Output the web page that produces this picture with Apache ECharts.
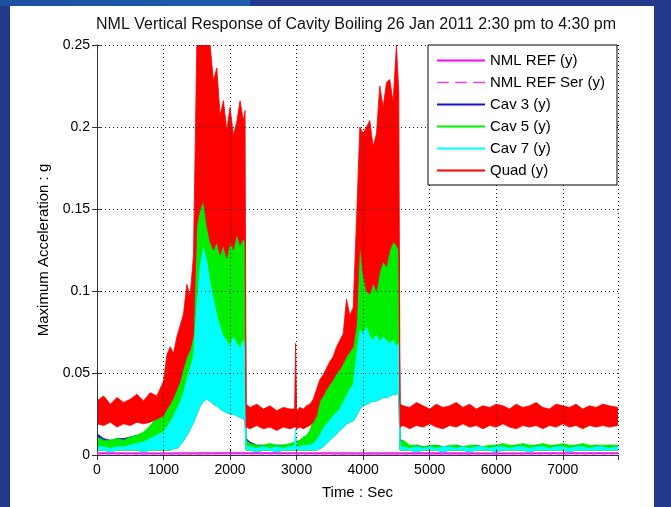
<!DOCTYPE html>
<html>
<head>
<meta charset="utf-8">
<title>NML Vertical Response of Cavity Boiling</title>
<script src="https://cdn.jsdelivr.net/npm/echarts@6/dist/echarts.min.js"></script>
<style>
html, body { margin: 0; padding: 0; background: #233a8c; }
#main { width: 671px; height: 507px; }
</style>
</head>
<body>
<div id="main"></div>
<script>
// sample times (sec) shared by the envelope arrays below
var t = [0, 100, 200, 300, 400, 500, 600, 700, 800, 900,
    1000, 1050, 1100, 1150, 1200, 1250, 1300, 1350, 1400, 1450,
    1500, 1550, 1600, 1650, 1700, 1750, 1800, 1850, 1900, 1950,
    2000, 2050, 2100, 2150, 2200, 2225, 2240, 2300, 2400, 2500,
    2600, 2700, 2800, 2900, 2970, 2985, 3000, 3050, 3100, 3150,
    3200, 3250, 3300, 3350, 3400, 3450, 3500, 3550, 3600, 3650,
    3700, 3750, 3800, 3850, 3900, 3950, 4000, 4050, 4100, 4150,
    4200, 4250, 4300, 4350, 4400, 4450, 4500, 4535, 4555, 4600,
    4700, 4800, 4900, 5000, 5100, 5200, 5300, 5400, 5500, 5600,
    5700, 5800, 5900, 6000, 6100, 6200, 6300, 6400, 6500, 6600,
    6700, 6800, 6900, 7000, 7100, 7200, 7300, 7400, 7500, 7600,
    7700, 7830];

// Quad (y): upper / lower envelope of the noisy trace
var quadHi = [0.033, 0.036, 0.031, 0.035, 0.032, 0.034, 0.037, 0.033, 0.038, 0.036,
    0.045, 0.061, 0.066, 0.062, 0.072, 0.079, 0.086, 0.104, 0.097, 0.122,
    0.25, 0.25, 0.25, 0.25, 0.25, 0.228, 0.236, 0.207, 0.216, 0.198,
    0.212, 0.195, 0.203, 0.216, 0.204, 0.21, 0.031, 0.029, 0.031, 0.028,
    0.03, 0.027, 0.029, 0.028, 0.028, 0.068, 0.027, 0.029, 0.028, 0.03,
    0.031, 0.034, 0.04, 0.046, 0.049, 0.053, 0.057, 0.06, 0.066, 0.07,
    0.074, 0.095, 0.085, 0.09, 0.143, 0.2, 0.196, 0.2, 0.204, 0.188,
    0.196, 0.225, 0.212, 0.227, 0.229, 0.215, 0.25, 0.222, 0.031, 0.03,
    0.029, 0.032, 0.03, 0.028, 0.031, 0.029, 0.03, 0.032, 0.029, 0.031,
    0.028, 0.03, 0.029, 0.031, 0.03, 0.028, 0.031, 0.029, 0.03, 0.032,
    0.029, 0.028, 0.031, 0.03, 0.029, 0.031, 0.028, 0.03, 0.029, 0.031,
    0.03, 0.029];
var quadLo = [0.019, 0.018, 0.02, 0.017, 0.019, 0.018, 0.02, 0.019, 0.02, 0.022,
    0.024, 0.028, 0.031, 0.035, 0.04, 0.045, 0.053, 0.06, 0.064, 0.073,
    0.14, 0.15, 0.155, 0.14, 0.13, 0.125, 0.13, 0.122, 0.128, 0.12,
    0.13, 0.125, 0.135, 0.128, 0.132, 0.13, 0.017, 0.016, 0.018, 0.016,
    0.017, 0.015, 0.017, 0.016, 0.017, 0.017, 0.016, 0.017, 0.016, 0.017,
    0.018, 0.02, 0.024, 0.033, 0.036, 0.04, 0.043, 0.046, 0.05, 0.052,
    0.056, 0.06, 0.063, 0.066, 0.08, 0.13, 0.11, 0.1, 0.098, 0.105,
    0.1, 0.112, 0.118, 0.115, 0.125, 0.13, 0.128, 0.125, 0.017, 0.018,
    0.016, 0.018, 0.017, 0.019, 0.017, 0.016, 0.018, 0.017, 0.019, 0.017,
    0.018, 0.016, 0.018, 0.017, 0.019, 0.017, 0.016, 0.018, 0.017, 0.018,
    0.016, 0.018, 0.017, 0.019, 0.017, 0.018, 0.016, 0.018, 0.017, 0.018,
    0.017, 0.018];

// Cav 5 (y)
var cav5Hi = [0.011, 0.009, 0.009, 0.01, 0.009, 0.011, 0.012, 0.014, 0.018, 0.023,
    0.026, 0.03, 0.033, 0.037, 0.042, 0.047, 0.055, 0.062, 0.066, 0.075,
    0.142, 0.152, 0.157, 0.142, 0.132, 0.127, 0.132, 0.124, 0.13, 0.122,
    0.132, 0.127, 0.137, 0.13, 0.134, 0.132, 0.009, 0.007, 0.006, 0.006,
    0.007, 0.006, 0.006, 0.007, 0.008, 0.007, 0.008, 0.009, 0.011, 0.012,
    0.015, 0.021, 0.026, 0.035, 0.038, 0.042, 0.045, 0.048, 0.052, 0.054,
    0.058, 0.062, 0.065, 0.068, 0.082, 0.132, 0.112, 0.102, 0.1, 0.107,
    0.102, 0.114, 0.12, 0.117, 0.127, 0.132, 0.13, 0.127, 0.008, 0.009,
    0.006, 0.006, 0.005, 0.006, 0.006, 0.005, 0.006, 0.006, 0.005, 0.006,
    0.006, 0.005, 0.006, 0.006, 0.007, 0.006, 0.006, 0.007, 0.006, 0.006,
    0.007, 0.006, 0.006, 0.007, 0.006, 0.006, 0.007, 0.006, 0.006, 0.006,
    0.006, 0.006];
var cav5Lo = [0.003, 0.003, 0.002, 0.003, 0.003, 0.003, 0.003, 0.002, 0.003, 0.003,
    0.003, 0.003, 0.003, 0.004, 0.004, 0.006, 0.009, 0.012, 0.016, 0.02,
    0.025, 0.03, 0.033, 0.034, 0.033, 0.031, 0.03, 0.028, 0.027, 0.026,
    0.025, 0.025, 0.024, 0.023, 0.022, 0.021, 0.003, 0.003, 0.002, 0.003,
    0.003, 0.002, 0.003, 0.003, 0.003, 0.003, 0.003, 0.003, 0.003, 0.003,
    0.003, 0.003, 0.003, 0.004, 0.005, 0.007, 0.009, 0.011, 0.013, 0.015,
    0.017, 0.019, 0.02, 0.021, 0.024, 0.028, 0.03, 0.031, 0.032, 0.033,
    0.033, 0.034, 0.035, 0.035, 0.036, 0.037, 0.037, 0.038, 0.003, 0.003,
    0.003, 0.002, 0.003, 0.003, 0.003, 0.002, 0.003, 0.003, 0.003, 0.002,
    0.003, 0.003, 0.003, 0.002, 0.003, 0.003, 0.003, 0.003, 0.002, 0.003,
    0.003, 0.003, 0.003, 0.003, 0.002, 0.003, 0.003, 0.003, 0.003, 0.003,
    0.003, 0.003];

// Cav 7 (y)
var cav7Hi = [0.005, 0.005, 0.004, 0.005, 0.005, 0.006, 0.007, 0.008, 0.01, 0.012,
    0.014, 0.017, 0.02, 0.024, 0.028, 0.032, 0.038, 0.046, 0.053, 0.06,
    0.09, 0.115, 0.126, 0.118, 0.105, 0.095, 0.085, 0.078, 0.072, 0.07,
    0.066, 0.072, 0.068, 0.065, 0.07, 0.064, 0.005, 0.005, 0.004, 0.005,
    0.004, 0.005, 0.004, 0.005, 0.006, 0.016, 0.005, 0.005, 0.006, 0.006,
    0.006, 0.007, 0.009, 0.012, 0.016, 0.019, 0.021, 0.024, 0.026, 0.028,
    0.032, 0.036, 0.04, 0.043, 0.06, 0.076, 0.074, 0.078, 0.072, 0.07,
    0.073, 0.069, 0.072, 0.07, 0.068, 0.07, 0.066, 0.068, 0.005, 0.005,
    0.004, 0.005, 0.004, 0.005, 0.004, 0.005, 0.005, 0.004, 0.005, 0.004,
    0.005, 0.005, 0.004, 0.005, 0.005, 0.004, 0.005, 0.005, 0.004, 0.005,
    0.005, 0.004, 0.005, 0.005, 0.004, 0.005, 0.005, 0.004, 0.005, 0.005,
    0.004, 0.005];
var cav7Lo = [0.003, 0.003, 0.002, 0.003, 0.003, 0.003, 0.003, 0.002, 0.003, 0.003,
    0.003, 0.003, 0.003, 0.004, 0.004, 0.006, 0.009, 0.012, 0.016, 0.02,
    0.025, 0.03, 0.033, 0.034, 0.033, 0.031, 0.03, 0.028, 0.027, 0.026,
    0.025, 0.025, 0.024, 0.023, 0.022, 0.021, 0.003, 0.003, 0.002, 0.003,
    0.003, 0.002, 0.003, 0.003, 0.003, 0.003, 0.003, 0.003, 0.003, 0.003,
    0.003, 0.003, 0.003, 0.004, 0.005, 0.007, 0.009, 0.011, 0.013, 0.015,
    0.017, 0.019, 0.02, 0.021, 0.024, 0.028, 0.03, 0.031, 0.032, 0.033,
    0.033, 0.034, 0.035, 0.035, 0.036, 0.037, 0.037, 0.038, 0.003, 0.003,
    0.003, 0.002, 0.003, 0.003, 0.003, 0.002, 0.003, 0.003, 0.003, 0.002,
    0.003, 0.003, 0.003, 0.002, 0.003, 0.003, 0.003, 0.003, 0.002, 0.003,
    0.003, 0.003, 0.003, 0.003, 0.002, 0.003, 0.003, 0.003, 0.003, 0.003,
    0.003, 0.003];

// Cav 3 (y) - mostly hidden under Cav 5
var cav3Hi = [0.013, 0.01, 0.009, 0.01, 0.01, 0.011, 0.012, 0.013, 0.017, 0.022,
    0.025, 0.029, 0.032, 0.036, 0.041, 0.046, 0.054, 0.061, 0.065, 0.074,
    0.141, 0.151, 0.156, 0.141, 0.131, 0.126, 0.131, 0.123, 0.129, 0.121,
    0.131, 0.126, 0.136, 0.129, 0.133, 0.131, 0.01, 0.008, 0.006, 0.006,
    0.006, 0.006, 0.006, 0.006, 0.007, 0.007, 0.008, 0.009, 0.01, 0.011,
    0.014, 0.02, 0.025, 0.034, 0.037, 0.041, 0.044, 0.047, 0.051, 0.053,
    0.057, 0.061, 0.064, 0.067, 0.081, 0.131, 0.111, 0.101, 0.099, 0.106,
    0.101, 0.113, 0.119, 0.116, 0.126, 0.131, 0.129, 0.126, 0.01, 0.008,
    0.005, 0.006, 0.005, 0.005, 0.006, 0.005, 0.005, 0.006, 0.005, 0.005,
    0.006, 0.005, 0.005, 0.006, 0.006, 0.005, 0.006, 0.006, 0.005, 0.006,
    0.006, 0.005, 0.006, 0.006, 0.005, 0.006, 0.006, 0.005, 0.006, 0.005,
    0.006, 0.005];
var cav3Lo = [0.003, 0.003, 0.002, 0.003, 0.003, 0.003, 0.003, 0.002, 0.003, 0.003,
    0.003, 0.003, 0.003, 0.004, 0.004, 0.006, 0.009, 0.012, 0.016, 0.02,
    0.025, 0.03, 0.033, 0.034, 0.033, 0.031, 0.03, 0.028, 0.027, 0.026,
    0.025, 0.025, 0.024, 0.023, 0.022, 0.021, 0.003, 0.003, 0.002, 0.003,
    0.003, 0.002, 0.003, 0.003, 0.003, 0.003, 0.003, 0.003, 0.003, 0.003,
    0.003, 0.003, 0.003, 0.004, 0.005, 0.007, 0.009, 0.011, 0.013, 0.015,
    0.017, 0.019, 0.02, 0.021, 0.024, 0.028, 0.03, 0.031, 0.032, 0.033,
    0.033, 0.034, 0.035, 0.035, 0.036, 0.037, 0.037, 0.038, 0.003, 0.003,
    0.003, 0.002, 0.003, 0.003, 0.003, 0.002, 0.003, 0.003, 0.003, 0.002,
    0.003, 0.003, 0.003, 0.002, 0.003, 0.003, 0.003, 0.003, 0.002, 0.003,
    0.003, 0.003, 0.003, 0.003, 0.002, 0.003, 0.003, 0.003, 0.003, 0.003,
    0.003, 0.003];

// reference channels (flat near zero)
var refT = [0, 1000, 2000, 3000, 4000, 5000, 6000, 7000, 7830];
var nmlRef = [0.0010, 0.0009, 0.0010, 0.0010, 0.0009, 0.0010, 0.0009, 0.0010, 0.0010];
var nmlRefSer = [0.0009, 0.0009, 0.0010, 0.0009, 0.0009, 0.0010, 0.0009, 0.0009, 0.0010];

var legendNames = ['NML REF (y)', 'NML REF Ser (y)', 'Cav 3 (y)', 'Cav 5 (y)', 'Cav 7 (y)', 'Quad (y)'];
var xTicks = [0, 1000, 2000, 3000, 4000, 5000, 6000, 7000];

var FONT = '"Liberation Sans", Arial, Helvetica, sans-serif';

// filled band between lo and hi envelopes
function band(name, color, lo, hi) {
    return {
        name: name,
        type: 'custom',
        clip: true,
        itemStyle: { color: color },
        encode: { x: 0, y: [1, 2] },
        data: t.map(function (x, i) { return [x, lo[i], hi[i]]; }),
        renderItem: function (params, api) {
            if (params.dataIndex !== 0) return null;
            var pts = [];
            for (var i = 0; i < t.length; i++) pts.push(api.coord([t[i], hi[i]]));
            for (var j = t.length - 1; j >= 0; j--) pts.push(api.coord([t[j], lo[j]]));
            return {
                type: 'polygon',
                shape: { points: pts },
                style: { fill: color, stroke: color, lineWidth: 0.8 }
            };
        }
    };
}

function refLine(name, color, vals, dashed) {
    return {
        name: name,
        type: 'line',
        symbol: 'none',
        color: color,
        lineStyle: { color: color, width: 2, type: dashed ? [5, 4] : 'solid' },
        data: refT.map(function (x, i) { return [x, vals[i]]; })
    };
}

var axisCommon = {
    axisLine: { show: true, lineStyle: { color: '#333', width: 1 } },
    axisTick: { show: true, inside: true, length: 5, lineStyle: { color: '#333' } }
};

var div = document.getElementById('main');
var myChart = echarts.init(div, null, { renderer: 'canvas' });

var option = {
    animation: false,
    backgroundColor: '#233a8c',
    graphic: [
        {
            type: 'rect', z: -10, silent: true,
            shape: { x: 0, y: 0, width: 250, height: 6 },
            style: {
                fill: new echarts.graphic.LinearGradient(0, 0, 1, 0, [
                    { offset: 0, color: '#1d4f9f' },
                    { offset: 1, color: '#1b5eaa' }
                ])
            }
        },
        {
            type: 'rect', z: -10, silent: true,
            shape: { x: 10, y: 6, width: 644, height: 501 },
            style: { fill: '#ffffff' }
        },
        {
            type: 'text', x: 356, y: 25, silent: true,
            style: {
                text: 'NML Vertical Response of Cavity Boiling 26 Jan 2011 2:30 pm to 4:30 pm',
                fill: '#111', fontSize: 16, fontFamily: FONT,
                align: 'center', verticalAlign: 'middle'
            }
        }
    ],
    grid: { left: 97, right: 53, top: 45, bottom: 52 },
    legend: {
        orient: 'vertical',
        left: 428,
        top: 45,
        z: 10,
        selectedMode: false,
        itemWidth: 48,
        itemHeight: 2,
        itemGap: 7,
        padding: [8, 12, 7, 9],
        backgroundColor: '#fff',
        borderColor: '#000',
        borderWidth: 1,
        borderRadius: 0,
        textStyle: { fontFamily: FONT, fontSize: 15, color: '#000' },
        data: [
            { name: legendNames[0], icon: 'rect' },
            { name: legendNames[1], icon: 'path://M0,0h9v1h-9z M14,0h9v1h-9z M28,0h9v1h-9z' },
            { name: legendNames[2], icon: 'rect' },
            { name: legendNames[3], icon: 'rect' },
            { name: legendNames[4], icon: 'rect' },
            { name: legendNames[5], icon: 'rect' }
        ]
    },
    xAxis: [
        Object.assign({}, axisCommon, {
            type: 'value', min: 0, max: 7830, interval: 1000, z: 3,
            name: 'Time : Sec', nameLocation: 'middle', nameGap: 30,
            nameTextStyle: { fontFamily: FONT, fontSize: 15, color: '#000' },
            axisLabel: {
                fontFamily: FONT, fontSize: 14, color: '#000', margin: 8,
                showMaxLabel: false,
                formatter: function (v) { return xTicks.indexOf(v) >= 0 ? String(v) : ''; }
            },
            splitLine: { show: true, lineStyle: { color: '#222', type: [1, 3], width: 1 } }
        }),
        Object.assign({}, axisCommon, {
            type: 'value', min: 0, max: 7830, interval: 1000, z: 3, position: 'top',
            axisLabel: { show: false }, splitLine: { show: false }
        })
    ],
    yAxis: [
        Object.assign({}, axisCommon, {
            type: 'value', min: 0, max: 0.25, interval: 0.05, z: 3,
            name: 'Maximum Acceleration : g', nameLocation: 'middle', nameGap: 43,
            nameTextStyle: { fontFamily: FONT, fontSize: 15, color: '#000' },
            axisLabel: { fontFamily: FONT, fontSize: 14, color: '#000', margin: 7 },
            splitLine: { show: true, lineStyle: { color: '#222', type: [1, 3], width: 1 } }
        }),
        Object.assign({}, axisCommon, {
            type: 'value', min: 0, max: 0.25, interval: 0.05, z: 3, position: 'right',
            axisLabel: { show: false }, splitLine: { show: false }
        })
    ],
    series: [
        refLine(legendNames[0], '#ff00ff', nmlRef, false),
        refLine(legendNames[1], '#dd44dd', nmlRefSer, true),
        band(legendNames[2], '#1414c8', cav3Lo, cav3Hi),
        band(legendNames[3], '#00ee00', cav5Lo, cav5Hi),
        band(legendNames[4], '#00ffff', cav7Lo, cav7Hi),
        band(legendNames[5], '#ff0000', quadLo, quadHi)
    ]
};

if (option && typeof option === 'object') {
    myChart.setOption(option);
}

window.addEventListener('resize', myChart.resize);
</script>
</body>
</html>
